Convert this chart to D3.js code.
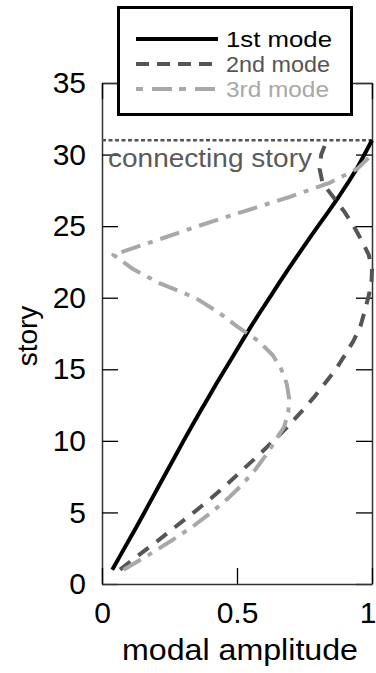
<!DOCTYPE html>
<html>
<head>
<meta charset="utf-8">
<script src="https://cdn.jsdelivr.net/npm/d3@7/dist/d3.min.js"></script>
<style>
  html, body { margin: 0; padding: 0; background: #fff; }
  svg { display: block; }
  text { font-family: "Liberation Sans", Arial, sans-serif; }
</style>
</head>
<body>
<svg id="chart" width="376" height="673"></svg>
<script>
// Story numbers (1 = lowest, 31 = connecting story)
const stories = [1,2,3,4,5,6,7,8,9,10,11,12,13,14,15,16,17,18,19,20,21,22,23,24,25,26,27,28,29,30,31];

// Normalised modal amplitudes per story
const mode1 = [0.038,0.068,0.098,0.128,0.157,0.186,0.215,0.244,0.273,0.302,0.332,0.362,0.393,0.424,0.456,0.488,0.520,0.552,0.586,0.621,0.655,0.690,0.726,0.763,0.800,0.838,0.875,0.910,0.943,0.972,1.000];
const mode2 = [0.067,0.135,0.205,0.272,0.340,0.405,0.465,0.522,0.580,0.635,0.688,0.737,0.783,0.825,0.866,0.900,0.932,0.957,0.972,0.986,0.998,1.000,0.988,0.962,0.932,0.898,0.858,0.817,0.806,0.812,0.833];
const mode3 = [0.080,0.170,0.255,0.335,0.405,0.468,0.522,0.568,0.607,0.642,0.675,0.690,0.693,0.684,0.664,0.632,0.578,0.500,0.430,0.345,0.215,0.115,0.042,0.200,0.355,0.520,0.688,0.840,0.945,1.000];

const seriesNames = ["1st mode", "2nd mode", "3rd mode"];
const connectingStory = 31;
const connectingLabel = "connecting story";

const xTicks = [0, 0.5, 1];
const xTickLabels = ["0", "0.5", "1"];
const yTicks = [0, 5, 10, 15, 20, 25, 30, 35];
const xTitle = "modal amplitude";
const yTitle = "story";

const svg = d3.select("#chart");

const x = d3.scaleLinear().domain([0, 1]).range([102, 372]);
const y = d3.scaleLinear().domain([0, 35]).range([584, 83]);

const styles = [
  { color: "#000000", dash: null, legendDash: null },
  { color: "#555555", dash: "13,10", legendDash: "13,8" },
  { color: "#a8a8a8", dash: "20,8,5,8", legendDash: "7,9,20,7" }
];

// Frame: axes on all four sides with inward ticks
function styleAxis(g) {
  g.select(".domain").attr("stroke", "#333").attr("stroke-width", 1.5);
  g.selectAll(".tick line").attr("stroke", "#000").attr("stroke-width", 1.3);
  g.selectAll(".tick text").attr("fill", "#000").style("font-size", "30px")
    .style("font-family", '"Liberation Sans", Arial, sans-serif');
}

svg.append("g")
  .attr("transform", "translate(102,0)")
  .call(d3.axisLeft(y).tickValues(yTicks).tickSizeInner(-16).tickSizeOuter(0).tickPadding(16))
  .call(styleAxis);

svg.append("g")
  .attr("transform", "translate(372,0)")
  .call(d3.axisRight(y).tickValues(yTicks).tickSizeInner(-16).tickSizeOuter(0).tickFormat(""))
  .call(styleAxis);

const xAxisG = svg.append("g")
  .attr("transform", "translate(0,584)")
  .call(d3.axisBottom(x).tickValues(xTicks).tickSizeInner(-16).tickSizeOuter(0).tickPadding(18)
    .tickFormat((d, i) => xTickLabels[i]))
  .call(styleAxis);
// keep the last label inside the page edge
xAxisG.selectAll(".tick text").filter(d => d === 1)
  .attr("text-anchor", "end").attr("x", 4);

svg.append("g")
  .attr("transform", "translate(0,83)")
  .call(d3.axisTop(x).tickValues(xTicks).tickSizeInner(-16).tickSizeOuter(0).tickFormat(""))
  .call(styleAxis);

// Axis titles
svg.append("text")
  .attr("x", 240).attr("y", 660)
  .attr("text-anchor", "middle")
  .attr("textLength", 236).attr("lengthAdjust", "spacingAndGlyphs")
  .style("font-size", "30px").attr("fill", "#000")
  .text(xTitle);

svg.append("text")
  .attr("transform", "translate(37,336) rotate(-90)")
  .attr("text-anchor", "middle")
  .style("font-size", "28px").attr("fill", "#000")
  .text(yTitle);

// Connecting story marker
svg.append("line")
  .attr("x1", x(0)).attr("x2", x(1))
  .attr("y1", y(connectingStory)).attr("y2", y(connectingStory))
  .attr("stroke", "#555").attr("stroke-width", 2.5)
  .attr("stroke-dasharray", "4,2.5");

svg.append("text")
  .attr("x", 108).attr("y", 167)
  .attr("textLength", 204).attr("lengthAdjust", "spacingAndGlyphs")
  .style("font-size", "26px").attr("fill", "#5a5a5a")
  .text(connectingLabel);

// Mode shapes
const modes = [mode1, mode2, mode3];
const line = d3.line()
  .x(d => x(d.a))
  .y(d => y(d.s));

modes.forEach((vals, i) => {
  const pts = vals.map((a, k) => ({ s: stories[k], a }));
  svg.append("path")
    .datum(pts)
    .attr("d", line)
    .attr("fill", "none")
    .attr("stroke", styles[i].color)
    .attr("stroke-width", 4)
    .attr("stroke-linejoin", "round")
    .attr("stroke-dasharray", styles[i].dash);
});

// Legend
const lg = svg.append("g");
lg.append("rect")
  .attr("x", 118.5).attr("y", 7.5).attr("width", 233).attr("height", 107)
  .attr("fill", "#fff").attr("stroke", "#000").attr("stroke-width", 3);

const legendY = [39, 64, 89];
const legendTextWidth = [106, 104, 103];
seriesNames.forEach((name, i) => {
  lg.append("line")
    .attr("x1", 136).attr("x2", 218)
    .attr("y1", legendY[i]).attr("y2", legendY[i])
    .attr("stroke", styles[i].color).attr("stroke-width", 4)
    .attr("stroke-dasharray", styles[i].legendDash);
  lg.append("text")
    .attr("x", 226).attr("y", legendY[i] + 8)
    .attr("textLength", legendTextWidth[i]).attr("lengthAdjust", "spacingAndGlyphs")
    .style("font-size", "22px")
    .attr("fill", styles[i].color)
    .text(name);
});
</script>
</body>
</html>
